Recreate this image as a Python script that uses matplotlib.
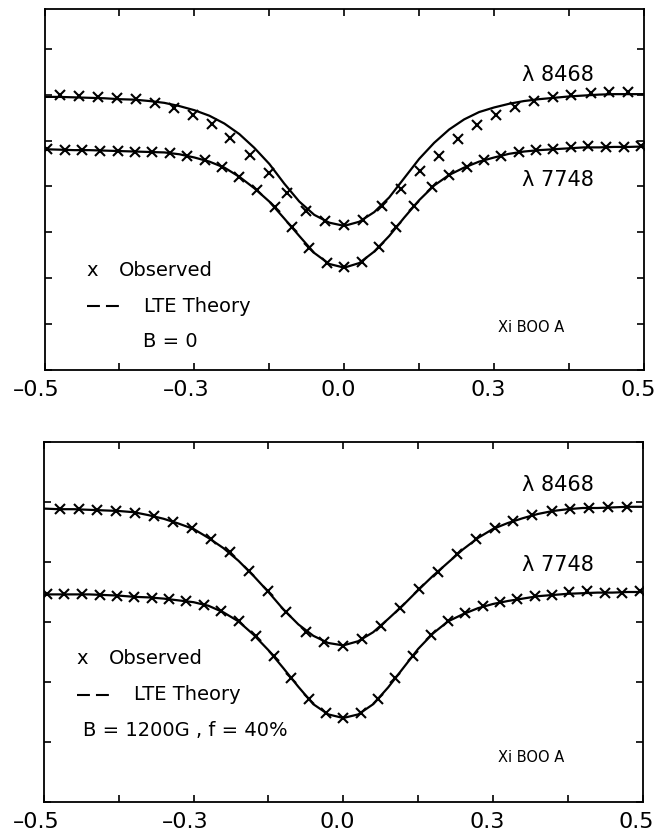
import matplotlib
matplotlib.use("Agg")
import matplotlib.pyplot as plt
from matplotlib.lines import Line2D
from matplotlib.transforms import ScaledTranslation

plt.rcParams['font.family'] = ['DejaVu Sans']

# observed sampling (two different steps for the two lines)
x_8468 = [-0.474, -0.442, -0.411, -0.379, -0.348, -0.316, -0.284, -0.253, -0.221, -0.190,
          -0.158, -0.126, -0.095, -0.063, -0.032, 0.000, 0.032, 0.063, 0.095, 0.126,
          0.158, 0.190, 0.221, 0.253, 0.284, 0.316, 0.348, 0.379, 0.411, 0.442, 0.474]
x_7748 = [-0.495, -0.466, -0.437, -0.407, -0.378, -0.349, -0.320, -0.291, -0.262, -0.233,
          -0.204, -0.175, -0.146, -0.116, -0.087, -0.058, -0.029, 0.000, 0.029, 0.058,
          0.087, 0.116, 0.146, 0.175, 0.204, 0.233, 0.262, 0.291, 0.320, 0.349,
          0.378, 0.407, 0.437, 0.466, 0.495]
x_theory = [-0.500, -0.475, -0.450, -0.425, -0.400, -0.375, -0.350, -0.325, -0.300, -0.275,
            -0.250, -0.225, -0.200, -0.175, -0.150, -0.125, -0.100, -0.075, -0.050, -0.025,
            0.000, 0.025, 0.050, 0.075, 0.100, 0.125, 0.150, 0.175, 0.200, 0.225,
            0.250, 0.275, 0.300, 0.325, 0.350, 0.375, 0.400, 0.425, 0.450, 0.475, 0.500]

# top panel, B = 0
obs_8468_b0 = [0.799, 0.797, 0.794, 0.792, 0.790, 0.781, 0.770, 0.756, 0.735, 0.706,
               0.668, 0.629, 0.585, 0.546, 0.525, 0.516, 0.527, 0.557, 0.594, 0.634,
               0.667, 0.703, 0.734, 0.756, 0.772, 0.785, 0.795, 0.799, 0.804, 0.806, 0.806]
obs_7748_b0 = [0.681, 0.679, 0.679, 0.678, 0.677, 0.676, 0.674, 0.672, 0.666, 0.658,
               0.643, 0.621, 0.592, 0.555, 0.511, 0.465, 0.434, 0.424, 0.436, 0.467,
               0.511, 0.558, 0.598, 0.625, 0.643, 0.658, 0.667, 0.674, 0.679, 0.681,
               0.685, 0.688, 0.685, 0.685, 0.687]
lte_8468_b0 = [0.795, 0.795, 0.794, 0.793, 0.792, 0.790, 0.789, 0.786, 0.782, 0.775,
               0.766, 0.754, 0.737, 0.714, 0.684, 0.649, 0.606, 0.567, 0.538, 0.521,
               0.514, 0.523, 0.544, 0.576, 0.618, 0.660, 0.695, 0.724, 0.746, 0.762,
               0.772, 0.780, 0.786, 0.790, 0.793, 0.796, 0.798, 0.800, 0.801, 0.801, 0.801]
lte_7748_b0 = [0.681, 0.680, 0.679, 0.679, 0.678, 0.677, 0.676, 0.675, 0.674, 0.670,
               0.663, 0.654, 0.641, 0.621, 0.596, 0.567, 0.530, 0.492, 0.455, 0.431,
               0.423, 0.433, 0.458, 0.492, 0.532, 0.570, 0.602, 0.625, 0.641, 0.654,
               0.663, 0.671, 0.676, 0.679, 0.681, 0.683, 0.685, 0.685, 0.686, 0.686, 0.687]

# bottom panel, B = 1200G, f = 40%
obs_8468_b1200 = [0.688, 0.688, 0.687, 0.685, 0.682, 0.677, 0.667, 0.656, 0.638, 0.616,
                  0.585, 0.552, 0.516, 0.484, 0.467, 0.460, 0.471, 0.493, 0.523, 0.555,
                  0.584, 0.613, 0.638, 0.656, 0.668, 0.678, 0.685, 0.688, 0.690, 0.691, 0.692]
obs_7748_b1200 = [0.546, 0.546, 0.546, 0.545, 0.543, 0.541, 0.540, 0.538, 0.535, 0.528,
                  0.518, 0.501, 0.476, 0.444, 0.407, 0.371, 0.348, 0.340, 0.348, 0.371,
                  0.406, 0.444, 0.478, 0.501, 0.515, 0.527, 0.533, 0.538, 0.543, 0.545,
                  0.550, 0.552, 0.549, 0.549, 0.551]
lte_8468_b1200 = [0.689, 0.688, 0.688, 0.687, 0.686, 0.685, 0.683, 0.678, 0.672, 0.664,
                  0.655, 0.640, 0.623, 0.602, 0.577, 0.550, 0.521, 0.496, 0.477, 0.465,
                  0.461, 0.468, 0.483, 0.505, 0.528, 0.553, 0.577, 0.599, 0.621, 0.640,
                  0.655, 0.665, 0.673, 0.680, 0.685, 0.688, 0.690, 0.690, 0.691, 0.692, 0.692]
lte_7748_b1200 = [0.546, 0.546, 0.546, 0.546, 0.545, 0.544, 0.542, 0.541, 0.539, 0.536,
                  0.533, 0.527, 0.516, 0.501, 0.479, 0.453, 0.423, 0.392, 0.363, 0.346,
                  0.340, 0.346, 0.363, 0.391, 0.423, 0.455, 0.481, 0.501, 0.513, 0.523,
                  0.530, 0.535, 0.539, 0.543, 0.545, 0.547, 0.548, 0.549, 0.549, 0.550, 0.550]

xtick_pos = [-0.5, -0.375, -0.25, -0.125, 0.0, 0.125, 0.25, 0.375, 0.5]
xlab_pos = [-0.5, -0.25, 0.0, 0.25, 0.5]
xlab_txt = ['\u20130.5', '\u20130.3', '0.0', '0.3', '0.5']

W, H = 662, 835
fig = plt.figure(figsize=(W / 100, H / 100), dpi=100)


def px(x, y):
    # figure pixel -> figure fraction
    return x / W, 1 - y / H


def panel(rect, ylim, yticks, obs, lte, lab_y, legend, bline, b_x, xi_y):
    ax = fig.add_axes(rect)
    for xo, yo in obs:
        ax.plot(xo, yo, ls='none', marker='x', ms=6.5, mew=1.5, color='black')
    for yl in lte:
        ax.plot(x_theory, yl, color='black', lw=1.6)
    ax.set_xlim(-0.5, 0.5)
    ax.set_ylim(*ylim)
    ax.set_xticks(xtick_pos)
    ax.set_xticklabels([])
    ax.set_yticks(yticks)
    ax.set_yticklabels([])
    ax.tick_params(direction='in', top=True, right=True, length=5, width=1.2)
    for s in ax.spines.values():
        s.set_linewidth(1.3)

    # tick labels, sitting a few pixels left of their ticks as in the original
    trans = ax.get_xaxis_transform()
    for p, t in zip(xlab_pos, xlab_txt):
        dx = -8 if t.startswith('\u2013') else -6
        off = ScaledTranslation(dx / 100, -20 / 100, fig.dpi_scale_trans)
        ax.text(p, 0, t, transform=trans + off, fontsize=16, ha='center', va='center')

    fig.text(*px(558, lab_y[0]), 'λ 8468', fontsize=15, ha='center', va='center')
    fig.text(*px(558, lab_y[1]), 'λ 7748', fontsize=15, ha='center', va='center')

    lx, ly = legend
    fig.text(*px(lx, ly), 'x', fontsize=14, ha='center', va='center')
    fig.text(*px(lx + 27, ly), 'Observed', fontsize=14, ha='left', va='center')
    x0, y0 = px(lx - 5, ly + 36)
    x1, _ = px(lx + 27, ly + 36)
    fig.add_artist(Line2D([x0, x1], [y0, y0], transform=fig.transFigure,
                          color='black', lw=1.5, dashes=(6.2, 2.9)))
    fig.text(*px(lx + 52, ly + 36), 'LTE Theory', fontsize=14, ha='left', va='center')
    fig.text(*px(b_x, ly + 72), bline, fontsize=14, ha='left', va='center')
    fig.text(*px(531, xi_y), 'Xi BOO A', fontsize=10.5, ha='center', va='center')
    return ax


panel([44.5 / W, 1 - 370 / H, 599.5 / W, 361 / H], (0.2, 0.9865),
      [0.2, 0.3, 0.4, 0.5, 0.6, 0.7, 0.8, 0.9],
      [(x_8468, obs_8468_b0), (x_7748, obs_7748_b0)],
      [lte_8468_b0, lte_7748_b0], (75, 180), (92, 270), 'B = 0', 143, 327)

panel([44.0 / W, 1 - 802 / H, 598.5 / W, 360 / H], (0.2, 0.8),
      [0.2, 0.3, 0.4, 0.5, 0.6, 0.7, 0.8],
      [(x_8468, obs_8468_b1200), (x_7748, obs_7748_b1200)],
      [lte_8468_b1200, lte_7748_b1200], (485, 565), (82, 659), 'B = 1200G , f = 40%', 83, 757)

fig.savefig('out.png', dpi=100)
